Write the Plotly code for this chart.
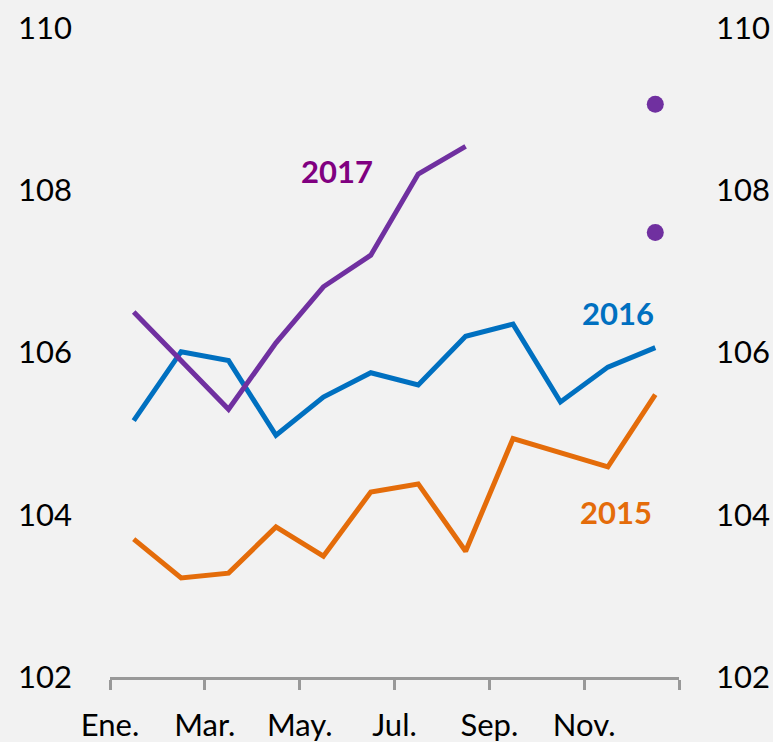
import plotly.graph_objects as go

months = ["Ene.", "Feb.", "Mar.", "Abr.", "May.", "Jun.", "Jul.", "Ago.", "Sep.", "Oct.", "Nov.", "Dic."]
tick_labels = ["Ene.", "Mar.", "May.", "Jul.", "Sep.", "Nov.", ""]

y2015 = [103.70, 103.22, 103.28, 103.85, 103.49, 104.28, 104.38, 103.55, 104.94, 104.76, 104.59, 105.48]
y2016 = [105.16, 106.01, 105.90, 104.98, 105.45, 105.75, 105.60, 106.20, 106.35, 105.39, 105.82, 106.06]
y2017 = [106.50, 105.90, 105.30, 106.12, 106.81, 107.20, 108.20, 108.54]
dots_2017 = [109.06, 107.48]

idx = list(range(len(months)))
tick_pos = [i - 0.5 for i in range(0, 13, 2)]

PURPLE = "#7030A0"
BLUE = "#0070C0"
ORANGE = "#E46C0A"
FONT = "Lato"

fig = go.Figure()
fig.add_trace(go.Scatter(x=idx, y=y2015, mode="lines", line=dict(color=ORANGE, width=5), name="2015"))
fig.add_trace(go.Scatter(x=idx, y=y2016, mode="lines", line=dict(color=BLUE, width=5), name="2016"))
fig.add_trace(go.Scatter(x=idx[:len(y2017)], y=y2017, mode="lines", line=dict(color=PURPLE, width=5), name="2017"))
fig.add_trace(go.Scatter(x=[idx[-1]] * len(dots_2017), y=dots_2017, mode="markers",
                         marker=dict(color=PURPLE, size=17), yaxis="y2", name="prev"))

labels = [("2017", 4.29, 108.24, "#800080"), ("2016", 10.22, 106.49, BLUE), ("2015", 10.17, 104.03, ORANGE)]
for txt, x, y, c in labels:
    fig.add_annotation(x=x, y=y, text=f"<b>{txt}</b>", showarrow=False,
                       font=dict(family=FONT, size=31, color=c), xanchor="center", yanchor="middle")

fig.update_layout(
    width=773, height=742,
    margin=dict(l=110, r=94, t=28, b=65),
    paper_bgcolor="#f2f2f2", plot_bgcolor="#f2f2f2",
    showlegend=False,
    font=dict(family=FONT, size=31, color="#000000"),
    xaxis=dict(range=[-0.5, 11.5], tickvals=tick_pos, ticktext=tick_labels, automargin=False,
               showgrid=False, zeroline=False, showline=True, linecolor="#999999", linewidth=3,
               ticks="outside", ticklen=10, tickwidth=3, tickcolor="#999999",
               ticklabelstandoff=9),
    yaxis=dict(range=[102, 110], dtick=2, showgrid=False, zeroline=False, showline=False,
               ticks="", ticklabelstandoff=37, automargin=False),
    yaxis2=dict(range=[102, 110], dtick=2, overlaying="y", side="right", showgrid=False,
                zeroline=False, showline=False, ticks="", ticklabelstandoff=36, automargin=False),
)

fig.write_html("out.html", config={"displayModeBar": False},
               post_script="document.body.style.margin='0';document.body.style.overflow='hidden';")
